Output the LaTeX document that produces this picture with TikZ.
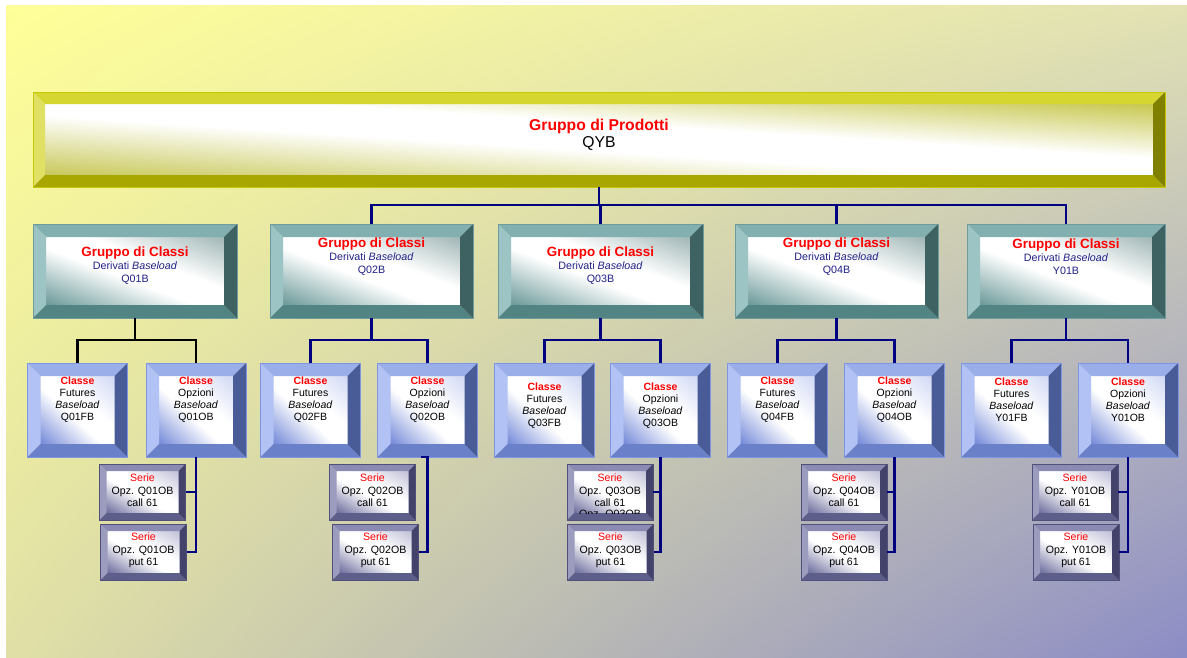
\documentclass[tikz,border=0pt]{standalone}
\usepackage{fontspec}
\setmainfont{Liberation Sans}
\usetikzlibrary{calc,shadings}

\definecolor{bgul}{HTML}{FFFF99}
\definecolor{bgur}{HTML}{E2E2B4}
\definecolor{bgll}{HTML}{E0E0A6}
\definecolor{bglr}{HTML}{8C8CC6}
% product box
\definecolor{prodtop}{HTML}{D6D630}
\definecolor{prodleft}{HTML}{E0E064}
\definecolor{prodbot}{HTML}{A8A600}
\definecolor{prodright}{HTML}{808000}
\definecolor{prodline}{HTML}{C8C800}
\definecolor{prodlo}{HTML}{C8C85A}
\definecolor{prodhi}{HTML}{C8C850}
% group boxes
\definecolor{grptop}{HTML}{82B0B0}
\definecolor{grpleft}{HTML}{9CC4C4}
\definecolor{grpbot}{HTML}{528484}
\definecolor{grpright}{HTML}{3E6262}
\definecolor{grpline}{HTML}{6E9C9C}
\definecolor{grplo}{HTML}{6A9898}
\definecolor{grphi}{HTML}{A0B6B6}
% class boxes
\definecolor{clstop}{HTML}{9AAEEA}
\definecolor{clsleft}{HTML}{B2C2F4}
\definecolor{clsbot}{HTML}{6A80C8}
\definecolor{clsright}{HTML}{4A5C98}
\definecolor{clsline}{HTML}{7E96E2}
\definecolor{clslo}{HTML}{7288D8}
\definecolor{clshi}{HTML}{D0D8F4}
% series boxes
\definecolor{sertop}{HTML}{8A8AB2}
\definecolor{serleft}{HTML}{9C9CBE}
\definecolor{serbot}{HTML}{5E5E8A}
\definecolor{serright}{HTML}{42426A}
\definecolor{serline}{HTML}{50507A}
\definecolor{serlo}{HTML}{6A6A9C}
\definecolor{serhi}{HTML}{C0C0D8}
\definecolor{linkblue}{HTML}{000080}
\definecolor{grpblue}{HTML}{202088}
\definecolor{titlered}{HTML}{FF0000}

% face shading: colour in the lower left and upper right corners, white across the middle
\newcommand\faceshading[1]{%
  \pgfdeclarefunctionalshading{#1face}{\pgfpointorigin}{\pgfpoint{100bp}{100bp}}
  {\pgfshadecolortorgb{#1lo}{\flo}\pgfshadecolortorgb{#1hi}{\fhi}}
  {add 50 sub 100 div dup 0.42 lt
   {0.42 exch sub 0.42 div dup 1 gt {pop 1} if
    dup dup 1 \flored\space sub mul 1 exch sub 3 1 roll 1 \flogreen\space sub mul 1 exch sub exch 1 \floblue\space sub mul 1 exch sub}
   {dup 0.62 gt
    {0.62 sub 0.38 div dup 1 gt {pop 1} if
     dup dup 1 \fhired\space sub mul 1 exch sub 3 1 roll 1 \fhigreen\space sub mul 1 exch sub exch 1 \fhiblue\space sub mul 1 exch sub}
    {pop 1 1 1} ifelse} ifelse}}
\faceshading{prod}
\faceshading{grp}
\faceshading{cls}
\faceshading{ser}

% bevelled face: #1 colour prefix, #2 bevel width (pt)
\newcommand\bevelfaces[2]{%
  \coordinate (bnw) at (path picture bounding box.north west);
  \coordinate (bne) at (path picture bounding box.north east);
  \coordinate (bsw) at (path picture bounding box.south west);
  \coordinate (bse) at (path picture bounding box.south east);
  \coordinate (inw) at ([shift={(#2pt,-#2pt)}]bnw);
  \coordinate (ine) at ([shift={(-#2pt,-#2pt)}]bne);
  \coordinate (isw) at ([shift={(#2pt,#2pt)}]bsw);
  \coordinate (ise) at ([shift={(-#2pt,#2pt)}]bse);
  \shade[shading=#1face] (isw) rectangle (ine);
  \fill[#1top] (bnw) -- (bne) -- (ine) -- (inw) -- cycle;
  \fill[#1left] (bnw) -- (inw) -- (isw) -- (bsw) -- cycle;
  \fill[#1bot] (bsw) -- (isw) -- (ise) -- (bse) -- cycle;
  \fill[#1right] (bne) -- (bse) -- (ise) -- (ine) -- cycle;
}

\tikzset{
  bevel/.style 2 args={rectangle, inner sep=0pt, draw=#1line, line width=0.6pt,
    path picture={\bevelfaces{#1}{#2}}}
}

\begin{document}
\begin{tikzpicture}[x=1pt, y=-1pt,
    link/.style={line width=2.2pt, draw=linkblue},
    prodbox/.style={bevel={prod}{12}, minimum width=1132pt, minimum height=95pt},
    grpbox/.style={bevel={grp}{13}, minimum height=94pt},
    clsbox/.style={bevel={cls}{13}, minimum width=100pt, minimum height=94pt},
    serbox/.style={bevel={ser}{7}, minimum width=86pt, minimum height=56pt},
    grptxt/.style={align=center, text=grpblue, font=\fontsize{10.7}{13}\selectfont},
    clstxt/.style={align=center, font=\fontsize{10.5}{12}\selectfont},
    sertxt/.style={align=center, font=\fontsize{10.6}{12.5}\selectfont}]
    % background
    \useasboundingbox (0,0) rectangle (1187,657);
    \fill[white] (0,0) rectangle (1187,657);
    \shade[upper left=bgul, upper right=bgur, lower left=bgll, lower right=bglr] (6,5) rectangle (1187,657);

    % product group
    \node[prodbox] (prod) at (599,139.5) {};
    \node[align=center, font=\fontsize{15.7}{17}\selectfont] (tprod) at (599,134.5)
        {{\bfseries\color{titlered}Gruppo di Prodotti}\\QYB};

    % class groups
    \foreach \g/\G/\x/\w/\ty in {q01/Q01/135/204/265.5, q02/Q02/371.5/203/256.5,
        q03/Q03/600.5/205/265.5, q04/Q04/836.5/203/256.5, y01/Y01/1066/198/256.5}{
        \node[grpbox, minimum width=\w pt] (grp\g) at (\x,271) {};
        \node[grptxt] (tgrp\g) at (\x,\ty)
            {{\fontsize{13.4}{14}\selectfont\bfseries\color{titlered}Gruppo di Classi}\\Derivati \textit{Baseload}\\\G B};
    }

    % classes
    \foreach \g/\G/\fx/\ox/\ty in {q01/Q01/77.5/196/399.5, q02/Q02/310.5/427.5/399.5,
        q03/Q03/544.5/660.5/405.5, q04/Q04/777.5/894.5/399.5, y01/Y01/1011.5/1128/399.5}{
        \node[clsbox] (fut\g) at (\fx,410) {};
        \node[clsbox] (opz\g) at (\ox,410) {};
        \node[clstxt] (tfut\g) at (\fx,\ty) {{\bfseries\color{titlered}Classe}\\Futures\\\textit{Baseload}\\\G FB};
        \node[clstxt] (topz\g) at (\ox,\ty) {{\bfseries\color{titlered}Classe}\\Opzioni\\\textit{Baseload}\\\G OB};
    }

    % series
    \foreach \g/\G/\cx/\px in {q01/Q01/142.5/143.5, q02/Q02/372.5/375.5,
        q03/Q03/610/610.5, q04/Q04/844/844, y01/Y01/1075/1076}{
        \node[serbox] (call\g) at (\cx,492) {};
        \node[serbox] (put\g) at (\px,552) {};
        \node[sertxt] (tcall\g) at (\cx,490.5) {{\color{titlered}Serie}\\Opz. \G OB\\call 61};
        \node[sertxt] (tput\g) at (\px,550.5) {{\color{titlered}Serie}\\Opz. \G OB\\put 61};
    }
    % text running over the face of the Q03 call box
    \begin{scope}
        \clip ([shift={(7pt,-7pt)}]callq03.north west) rectangle ([shift={(-7pt,7pt)}]callq03.south east);
        \node[sertxt] (tovfq03) at (610,515) {Opz. Q03OB};
    \end{scope}

    % links
    \coordinate (bus) at (599,205);
    \draw[link] (prod.south) -- (bus);
    \draw[link] (grpq02.north) |- (bus) -| (grpy01.north);
    \draw[link] (grpq03.north) -- (grpq03.north |- bus);
    \draw[link] (grpq04.north) -- (grpq04.north |- bus);

    \foreach \g/\c in {q01/black, q02/linkblue, q03/linkblue, q04/linkblue, y01/linkblue}{
        \draw[link, draw=\c] (grp\g.south) -- ++(0,22) coordinate (mid\g)
            (fut\g.north) |- (mid\g) -| (opz\g.north);
    }

    \foreach \g in {q01,q03,q04,y01}{
        \draw[link] (opz\g.south) |- (put\g.east);
        \draw[link] (call\g.east) -- (call\g.east -| opz\g.south);
    }
    \draw[link] ([xshift=-7pt]opzq02.south) -- (opzq02.south) |- (putq02.east);
\end{tikzpicture}
\end{document}
